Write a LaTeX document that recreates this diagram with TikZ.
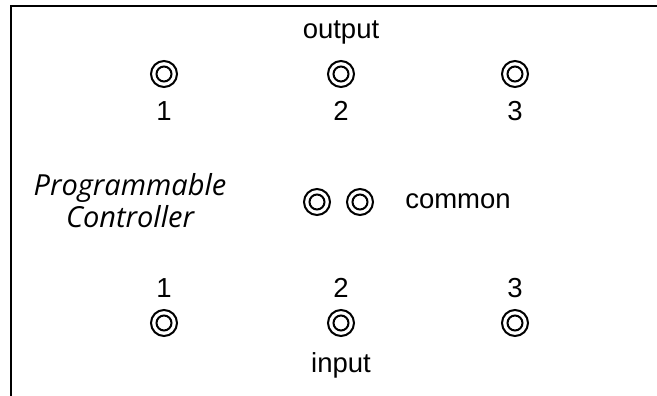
\documentclass[tikz,border=0pt]{standalone}
\usepackage{fontspec}
\setmainfont{Liberation Sans}
\newfontfamily\plcfont{Open Sans}
\usetikzlibrary{positioning}

\tikzset{
  jack/.style={circle, draw, line width=2pt, minimum size=26pt, inner sep=0pt,
    path picture={\draw[line width=2pt] (path picture bounding box.center) circle (7.5pt);}},
  txt/.style={inner sep=0pt, anchor=base, font=\fontsize{27.5}{30}\selectfont}
}

\begin{document}
\begin{tikzpicture}[x=1pt,y=-1pt]
    \useasboundingbox (0,0) rectangle (657,396);
    % Frame
    \draw[line width=2pt] (10.5,396) -- (10.5,6) -- (657,6);

    % Output
    \node[txt] (output) at (341,39) {output};
    \foreach \i/\x in {1/164, 2/341, 3/515} {
        \node[jack] (out\i) at (\x,74) {};
        \node[txt] (outnum\i) at (\x,121) {\i};
    }

    % Controller
    \node[inner sep=0pt, align=center, font=\plcfont\itshape\fontsize{29}{32}\selectfont] (plc) at (130,201) {Programmable\\Controller};
    \node[jack] (com1) at (317,202) {};
    \node[jack] (com2) at (360,202) {};
    \node[txt] (common) at (458,208) {common};

    % Input
    \foreach \i/\x in {1/164, 2/341, 3/515} {
        \node[txt] (innum\i) at (\x,297) {\i};
        \node[jack] (in\i) at (\x,323) {};
    }
    \node[txt] (input) at (341,372) {input};
\end{tikzpicture}
\end{document}
